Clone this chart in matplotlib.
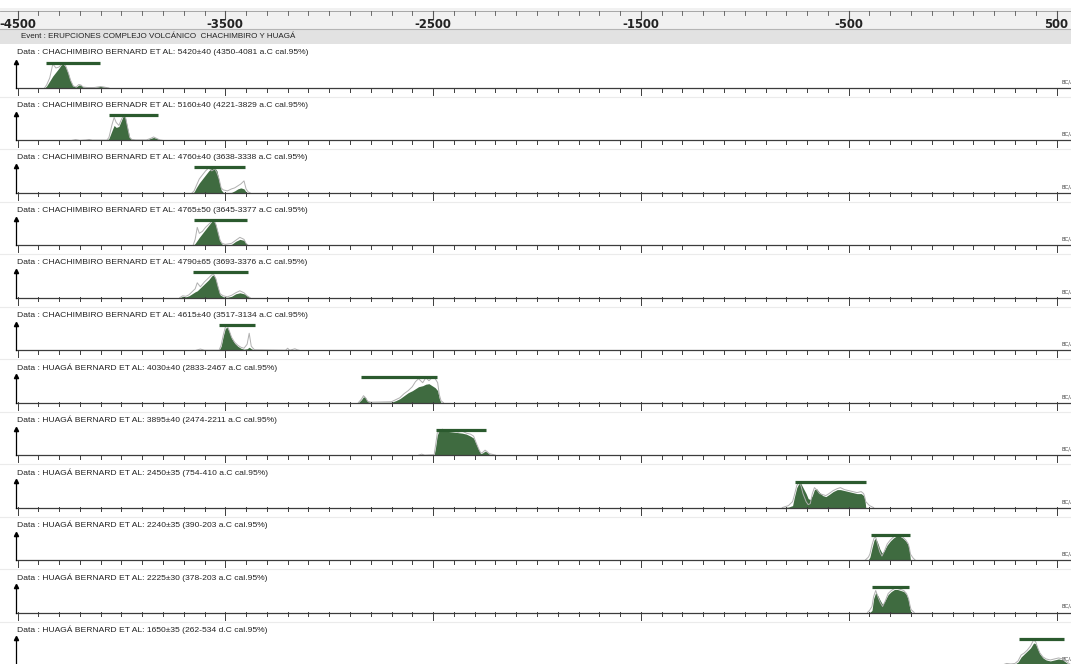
import matplotlib
matplotlib.use("Agg")
import matplotlib.pyplot as plt
import numpy as np

# dates / labels
event = "Event : ERUPCIONES COMPLEJO VOLCÁNICO  CHACHIMBIRO Y HUAGÁ"
sites = ["CHACHIMBIRO BERNARD", "CHACHIMBIRO BERNADR", "CHACHIMBIRO BERNARD",
         "CHACHIMBIRO BERNARD", "CHACHIMBIRO BERNARD", "CHACHIMBIRO BERNARD",
         "HUAGÁ BERNARD", "HUAGÁ BERNARD", "HUAGÁ BERNARD",
         "HUAGÁ BERNARD", "HUAGÁ BERNARD", "HUAGÁ BERNARD"]
bp = [5420, 5160, 4760, 4765, 4790, 4615, 4030, 3895, 2450, 2240, 2225, 1650]
err = [40, 40, 40, 50, 65, 40, 40, 40, 35, 35, 30, 35]
cal_lo = [4350, 4221, 3638, 3645, 3693, 3517, 2833, 2474, 754, 390, 378, 262]
cal_hi = [4081, 3829, 3338, 3377, 3376, 3134, 2467, 2211, 410, 203, 203, 534]
era = ["a.C"] * 11 + ["d.C"]

# 95% bars (years, negative = BC)
bar_lo = [-4362, -4058, -3649, -3649, -3657, -3532, -2845, -2488, -758, -393, -388, 318]
bar_hi = [-4102, -3824, -3407, -3395, -3391, -3355, -2480, -2247, -417, -205, -208, 534]

# probability curves (years, modelled, unmodelled), heights in px of a 25 px row
yrs = [
    [-4370, -4360, -4345, -4330, -4315, -4300, -4290, -4280, -4268, -4255, -4245, -4232, -4218,
     -4205, -4195, -4185, -4165, -4130, -4100, -4085, -4060],
    [-4240, -4220, -4200, -4170, -4155, -4140, -4070, -4060, -4045, -4035, -4025, -4012, -4000,
     -3990, -3980, -3970, -3960, -3950, -3930, -3880, -3860, -3845, -3830, -3815, -3800],
    [-3660, -3650, -3640, -3625, -3610, -3595, -3580, -3565, -3550, -3540, -3530, -3520, -3510,
     -3490, -3470, -3455, -3440, -3425, -3410, -3400, -3390, -3380],
    [-3655, -3645, -3635, -3625, -3610, -3595, -3580, -3565, -3555, -3545, -3535, -3525, -3515,
     -3500, -3470, -3450, -3430, -3410, -3400, -3390],
    [-3720, -3705, -3690, -3675, -3660, -3645, -3635, -3620, -3600, -3580, -3565, -3555, -3545,
     -3535, -3525, -3510, -3490, -3470, -3450, -3430, -3410, -3395, -3380],
    [-3640, -3620, -3600, -3530, -3520, -3510, -3500, -3490, -3480, -3470, -3455, -3440, -3425,
     -3410, -3395, -3385, -3375, -3360, -3210, -3200, -3190, -3165, -3155, -3145],
    [-2860, -2845, -2835, -2825, -2815, -2800, -2700, -2680, -2660, -2640, -2620, -2600, -2585,
     -2570, -2550, -2535, -2520, -2505, -2490, -2478, -2470, -2462, -2450],
    [-2570, -2555, -2540, -2495, -2488, -2480, -2470, -2455, -2440, -2420, -2400, -2380, -2360,
     -2340, -2320, -2305, -2292, -2280, -2270, -2260, -2250, -2240, -2230, -2215, -2200],
    [-820, -790, -770, -762, -750, -740, -730, -720, -705, -695, -685, -675, -665, -655, -640,
     -625, -610, -595, -575, -555, -540, -520, -500, -480, -460, -440, -428, -422, -418, -400, -380],
    [-420, -405, -398, -388, -378, -370, -360, -350, -340, -330, -315, -300, -285, -270, -255,
     -240, -225, -213, -207, -203, -190, -180],
    [-410, -400, -388, -380, -370, -360, -348, -337, -325, -310, -295, -280, -265, -250, -235,
     -222, -212, -206, -200, -185],
    [240, 260, 280, 300, 315, 330, 345, 360, 375, 390, 400, 410, 420, 435, 450, 470, 490, 510,
     530, 550, 570],
]
post = [
    [0, 2, 7, 12, 16, 20, 23, 24, 21, 14, 7, 2, 1, 3, 3, 1, 0.5, 0.5, 1.5, 1, 0],
    [0, 0.8, 0, 0.5, 1, 0.3, 0.3, 2, 10, 15, 13, 14, 20, 25, 22, 12, 3, 1, 0.5, 0.5, 2, 3, 2, 0.5, 0],
    [0, 1, 5, 10, 14, 18, 22, 25, 25, 22, 12, 3, 0.5, 0.3, 0.5, 2, 4, 5, 4, 1, 0, 0],
    [0, 2, 5, 8, 12, 16, 20, 24, 25, 20, 12, 4, 1, 0.3, 1, 4, 6, 5, 2, 0],
    [0, 1.5, 1, 2, 4, 6, 7, 10, 14, 18, 22, 23, 18, 10, 3, 1, 0.5, 1.5, 4, 5, 4, 2, 0],
    [0, 0.8, 0, 0, 4, 14, 22, 23, 18, 12, 7, 4, 2, 1, 1.5, 3, 1.5, 0, 0, 0.5, 0, 0.5, 0.3, 0],
    [0, 3, 6, 5, 1, 0.3, 0.5, 2, 4, 7, 10, 12, 14, 16, 17, 18.5, 19, 17, 15, 12, 4, 0, 0],
    [0, 0.8, 0, 0, 8, 20, 25, 25, 24, 23.5, 23, 22.5, 22, 21, 19, 17, 11, 5, 1.5, 2.5, 4, 3, 1, 0.5, 0],
    [0, 0.5, 2, 10, 20, 24, 24, 20, 14, 9, 8, 12, 18, 19, 15, 12, 11, 13, 16, 18, 18, 17, 16, 15,
     14, 14, 12, 8, 0, 0, 0],
    [0, 0.5, 3, 12, 20, 22, 17, 11, 7, 9, 15, 19, 22, 24, 24, 22, 19, 15, 8, 0, 0, 0],
    [0, 0, 2, 14, 20, 17, 12, 8, 12, 18, 21, 23, 23, 22, 21, 18, 12, 4, 0, 0],
    [0, 1, 0.5, 1, 3, 8, 11, 14, 17, 22, 21, 16, 11, 7, 5, 4, 5, 6, 5, 2, 0],
]
prior = [
    [0, 3, 10, 24, 20, 21, 23, 25, 22, 15, 8, 2, 1, 3.5, 3, 1, 0.5, 0.5, 1.5, 1, 0],
    [0, 0.8, 0, 0.5, 1, 0.3, 0.3, 3, 16, 23, 18, 15, 21, 25, 23, 13, 3, 1, 0.5, 0.5, 2, 3.5, 2, 0.5, 0],
    [0, 2, 7, 14, 18, 22, 25, 22, 24, 20, 14, 5, 3, 2, 4, 5, 7, 9, 12, 4, 1, 0],
    [0, 6, 18, 12, 14, 18, 21, 24, 25, 21, 13, 5, 2, 1, 2, 5, 8, 6, 2, 0],
    [0, 2, 1.5, 3, 6, 9, 15, 11, 16, 20, 23, 23, 19, 11, 4, 2, 1, 2.5, 5, 7, 5, 2, 0],
    [0, 1.2, 0, 0, 5, 15, 23, 24, 19, 13, 8, 5, 3, 2, 6, 17, 4, 0.5, 0, 2, 0, 1.5, 0.5, 0],
    [0, 3.5, 7, 5, 1.5, 0.5, 1, 3, 5, 9, 12, 16, 21, 24, 20, 25, 22, 25, 24, 20, 8, 2, 0],
    [0, 1, 0, 0.5, 10, 22, 24, 26, 24, 25, 24, 23, 24, 22, 21, 19, 12, 6, 2, 3, 5, 3.5, 1.5, 0.8, 0],
    [0, 2, 6, 12, 22, 25, 22, 14, 6, 3, 4, 14, 20, 18, 14, 13, 12, 14, 17, 19, 20, 18, 17, 16,
     15, 16, 14, 10, 6, 2, 0],
    [0, 3, 6, 15, 22, 23, 15, 8, 4, 8, 16, 20, 23, 25, 25, 23, 20, 16, 11, 6, 2, 0],
    [0, 2, 6, 16, 22, 16, 10, 6, 11, 19, 22, 24, 24, 23, 22, 19, 14, 8, 3, 0],
    [0, 1.5, 1, 1.5, 4, 10, 12, 15, 19, 25, 23, 17, 12, 8, 6, 5, 6, 7, 6, 3, 0],
]

tick_major = [-4500, -3500, -2500, -1500, -500, 500]

# pixel layout
W, H = 1071, 664
px_per_yr = 0.2078
x0 = -4500 - 17.5 / px_per_yr
x1 = x0 + W / px_per_yr
row0 = 88.0
row_step = 52.45
row_h = 25.0

def px(p):
    return x0 + p / px_per_yr

fill_c = "#3f6b40"
bar_c = "#2b5a2e"
axis_c = "#3c3c3c"

fig = plt.figure(figsize=(W / 100, H / 100), dpi=100)
ax = fig.add_axes([0, 0, 1, 1])
ax.set_xlim(x0, x1)
ax.set_ylim(H, 0)
ax.axis("off")

# top scale band
ax.axhspan(8, 29, color="#f1f1f1", lw=0)
ax.axhspan(29, 44, color="#e2e2e2", lw=0)
ax.plot([x0, x1], [29, 29], color="#b5b5b5", lw=0.8)
ax.plot([x0, x1], [11, 11], color="#9a9a9a", lw=0.6)
for yr in range(-4500, 600, 100):
    big = yr in tick_major
    ax.plot([yr, yr], [11, 19 if big else 15], color="#555555", lw=0.8 if big else 0.6)
for yr in tick_major:
    ax.text(yr, 24, str(yr), ha="center", va="center", fontsize=8.4,
            fontweight="bold", color="#222222", family="DejaVu Sans")
ax.text(px(21), 36.5, event, ha="left", va="center", fontsize=5.8,
        color="#222222", family="Liberation Sans")

xa = px(16)
for i in range(len(bp)):
    b = row0 + row_step * i
    lab = "Data : %s ET AL: %d±%d (%d-%d %s cal.95%%)" % (
        sites[i], bp[i], err[i], cal_lo[i], cal_hi[i], era[i])
    ax.text(px(17), b - 35, lab, ha="left", va="center", fontsize=6.1,
            color="#222222", family="Liberation Sans")

    # separator under row
    ax.plot([x0, x1], [b + 9, b + 9], color="#ebebeb", lw=0.8)

    # distributions
    xs = np.array(yrs[i])
    hp = np.array(post[i]) * row_h / 25.0
    hq = np.array(prior[i]) * row_h / 25.0
    ax.fill_between(xs, b, b - hp, color=fill_c, lw=0, zorder=3)
    ax.plot(xs, b - hq, color="#b0b0b0", lw=0.7, zorder=4)
    ax.plot([bar_lo[i], bar_hi[i]], [b - 25.5, b - 25.5], color=bar_c, lw=2.3,
            solid_capstyle="butt", zorder=5)

    # row axis
    ax.plot([xa, x1], [b, b], color=axis_c, lw=0.9, zorder=6)
    for yr in range(-4500, 600, 100):
        big = yr in tick_major
        ax.plot([yr, yr], [b - 0.5, b + (7 if big else 3.5)], color=axis_c, lw=0.7, zorder=6)
    ax.plot([xa, xa], [b, b - 25], color="black", lw=0.9, zorder=6)
    ax.plot(xa, b - 26.5, marker="^", ms=3, color="black", zorder=6)
    ax.text(px(1061), b - 6, "BC/AD", ha="left", va="center", fontsize=4,
            color="#444444", family="DejaVu Sans")

fig.savefig("out.png", dpi=100)
